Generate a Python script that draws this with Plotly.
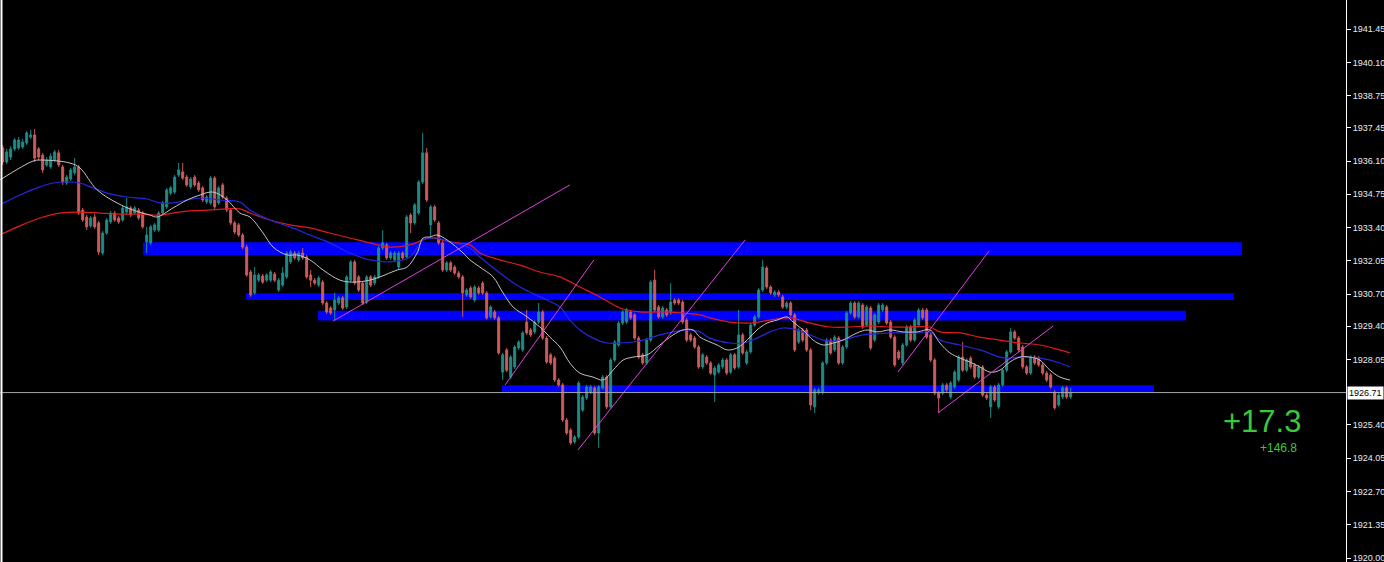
import plotly.graph_objects as go

# ---------------- data ----------------
open_ = [
 1936.63,1936.06,1936.26,1936.59,1936.63,1936.67,1936.83,1937.07,1937.16,1936.59,
 1936.34,1935.94,1935.86,1936.14,1936.43,1935.86,1935.21,1935.37,1935.62,1935.86,
 1934.11,1933.83,1933.47,1933.83,1933.59,1932.37,1933.18,1933.63,1933.99,1933.79,
 1933.71,1934.03,1934.20,1933.99,1934.11,1933.99,1932.82,1932.78,1933.30,1933.30,
 1933.99,1934.24,1934.80,1934.84,1935.53,1935.66,1935.45,1935.05,1935.45,1935.21,
 1935.01,1934.44,1934.40,1935.41,1934.40,1935.13,1934.60,1934.11,1933.59,1933.51,
 1933.10,1932.61,1931.60,1930.75,1931.27,1931.44,1931.27,1931.27,1931.52,1930.87,
 1931.07,1931.40,1932.01,1932.37,1932.09,1932.37,1932.21,1931.48,1931.27,1931.07,
 1931.19,1930.34,1930.14,1930.06,1930.34,1930.55,1930.18,1931.27,1932.01,1931.40,
 1931.15,1930.38,1931.40,1931.15,1931.40,1932.57,1932.70,1932.17,1932.09,1931.80,
 1932.37,1932.21,1933.91,1933.59,1933.99,1935.25,1936.43,1933.51,1934.24,1933.59,
 1932.78,1931.68,1931.97,1931.80,1931.56,1931.40,1930.67,1930.95,1930.46,1930.95,
 1931.15,1930.75,1929.78,1929.98,1929.74,1927.54,1928.44,1927.34,1927.75,1928.52,
 1928.44,1929.57,1929.25,1929.17,1929.57,1929.98,1928.92,1928.24,1928.11,1927.22,
 1927.02,1925.60,1925.19,1924.71,1924.91,1926.00,1926.49,1926.73,1926.90,1925.07,
 1926.90,1927.34,1926.13,1928.03,1928.64,1929.53,1929.57,1929.98,1929.86,1928.92,
 1928.24,1927.91,1928.84,1931.27,1930.18,1929.78,1930.06,1929.94,1930.46,1930.46,
 1930.38,1929.65,1929.05,1928.92,1928.56,1927.75,1928.15,1927.91,1927.42,1927.54,
 1927.75,1928.03,1927.54,1928.24,1927.75,1929.05,1927.91,1928.36,1929.45,1929.78,
 1930.87,1931.76,1930.99,1930.67,1930.79,1930.59,1930.18,1930.34,1929.86,1928.76,
 1929.25,1929.25,1928.44,1926.13,1926.71,1926.71,1927.91,1928.84,1928.44,1928.92,
 1927.91,1928.56,1929.94,1930.34,1929.78,1930.26,1929.45,1930.14,1928.84,1929.57,
 1930.06,1930.18,1929.57,1928.96,1928.36,1927.91,1928.64,1929.37,1928.84,1929.45,
 1930.06,1930.06,1929.05,1928.03,1926.69,1926.69,1927.02,1926.53,1926.94,1927.22,
 1928.15,1927.62,1928.11,1927.83,1927.34,1927.75,1926.61,1926.13,1926.94,1926.13,
 1927.02,1927.62,1928.36,1929.17,1928.92,1928.56,1927.75,1927.50,1928.15,1928.11,
 1927.83,1927.50,1927.42,1926.73,1926.21,1926.53,1926.90,1926.53,
]
high = [
 1936.75,1936.59,1936.71,1937.03,1937.07,1937.00,1937.32,1937.36,1937.40,1936.67,
 1936.42,1936.26,1936.42,1936.55,1936.55,1935.94,1935.53,1935.82,1936.22,1935.94,
 1934.20,1933.91,1933.87,1933.95,1933.67,1933.26,1933.79,1934.07,1934.07,1933.87,
 1934.28,1934.60,1934.28,1934.28,1934.20,1934.07,1933.43,1933.51,1933.59,1934.07,
 1934.48,1935.01,1935.09,1935.53,1936.02,1936.02,1935.53,1935.45,1935.53,1935.29,
 1935.09,1934.72,1935.49,1935.49,1935.09,1935.21,1934.68,1934.20,1933.67,1933.59,
 1933.18,1932.70,1931.68,1931.80,1931.56,1931.52,1931.56,1931.68,1931.60,1931.36,
 1931.80,1932.45,1932.49,1932.45,1932.45,1932.57,1932.29,1931.68,1931.36,1931.44,
 1931.27,1930.42,1930.22,1930.75,1930.63,1930.63,1931.48,1932.09,1932.09,1931.48,
 1931.23,1931.48,1931.48,1931.48,1932.65,1933.30,1932.78,1932.45,1932.45,1932.45,
 1932.45,1933.91,1933.99,1934.40,1935.33,1937.24,1936.63,1934.32,1934.32,1933.67,
 1932.86,1932.05,1932.05,1931.88,1931.64,1931.48,1930.95,1931.03,1931.07,1931.03,
 1931.23,1930.83,1930.26,1930.06,1929.82,1928.32,1928.52,1928.23,1928.64,1928.84,
 1929.21,1930.06,1929.33,1929.65,1930.34,1930.06,1929.00,1928.32,1928.19,1927.30,
 1927.10,1925.68,1925.27,1924.99,1927.18,1926.61,1927.02,1927.02,1926.98,1927.02,
 1927.42,1927.42,1928.11,1928.84,1929.61,1930.06,1930.14,1930.06,1929.94,1929.00,
 1928.32,1928.92,1931.27,1931.68,1930.26,1930.22,1930.14,1931.15,1930.54,1930.54,
 1930.46,1929.73,1929.13,1929.00,1928.64,1928.32,1928.23,1927.99,1927.79,1927.91,
 1928.11,1928.11,1928.32,1928.32,1930.06,1929.13,1928.44,1929.53,1929.86,1930.95,
 1932.09,1931.84,1931.07,1930.87,1930.87,1930.67,1930.42,1930.42,1929.94,1929.33,
 1929.33,1929.33,1928.52,1926.90,1926.90,1927.99,1928.92,1928.92,1929.04,1929.00,
 1928.64,1930.02,1930.42,1930.42,1930.42,1930.34,1930.26,1930.22,1929.94,1930.34,
 1930.34,1930.26,1929.65,1929.04,1928.44,1928.72,1929.45,1929.45,1929.73,1930.14,
 1930.14,1930.14,1929.13,1928.11,1926.77,1927.10,1927.10,1927.18,1927.62,1928.23,
 1928.76,1928.11,1928.19,1927.91,1927.83,1927.83,1926.69,1927.02,1927.02,1927.10,
 1927.70,1928.44,1929.33,1929.25,1929.00,1928.64,1927.83,1928.23,1928.23,1928.19,
 1927.91,1927.58,1927.50,1926.81,1926.69,1926.98,1926.98,1926.90,
]
low = [
 1935.94,1935.98,1936.14,1936.50,1936.55,1936.59,1936.75,1937.00,1936.06,1936.14,
 1935.62,1935.86,1935.78,1936.06,1935.86,1935.13,1935.13,1935.29,1935.53,1933.91,
 1933.63,1933.30,1933.39,1933.35,1932.29,1932.29,1933.10,1933.55,1933.63,1933.55,
 1933.63,1933.95,1933.83,1933.91,1933.71,1933.35,1932.37,1932.70,1933.22,1933.22,
 1933.91,1934.16,1934.72,1934.76,1935.45,1935.33,1935.05,1934.97,1935.05,1934.85,
 1934.44,1934.36,1934.32,1934.16,1934.32,1934.56,1934.03,1933.51,1933.14,1933.02,
 1932.53,1931.40,1930.59,1930.67,1931.19,1931.11,1931.19,1931.19,1931.19,1930.79,
 1930.99,1931.32,1931.93,1932.09,1932.01,1932.09,1931.32,1930.99,1931.07,1930.99,
 1930.26,1929.90,1929.86,1929.65,1930.26,1930.06,1930.10,1931.19,1931.07,1930.79,
 1930.26,1930.30,1930.99,1931.07,1931.32,1932.49,1932.09,1932.09,1932.01,1931.72,
 1932.09,1932.13,1933.18,1933.51,1933.91,1935.17,1934.44,1933.02,1933.63,1932.70,
 1931.60,1931.60,1931.60,1931.48,1931.32,1929.78,1930.59,1930.51,1930.38,1930.67,
 1930.67,1929.66,1929.70,1929.66,1928.24,1927.22,1927.54,1927.26,1927.67,1928.44,
 1928.36,1929.05,1928.97,1929.09,1929.49,1928.84,1927.87,1927.83,1927.14,1926.94,
 1925.52,1924.99,1924.59,1924.63,1924.83,1925.92,1926.41,1926.65,1924.99,1924.47,
 1926.82,1926.05,1926.05,1927.95,1928.56,1929.45,1929.49,1929.66,1928.84,1928.07,
 1927.83,1927.83,1928.76,1929.98,1929.70,1929.70,1929.78,1929.86,1930.26,1930.26,
 1929.49,1928.76,1928.76,1928.48,1927.67,1927.67,1927.83,1927.42,1926.33,1927.46,
 1927.67,1927.42,1927.46,1927.63,1927.67,1928.24,1927.83,1928.28,1929.37,1929.70,
 1930.79,1930.91,1930.67,1930.59,1930.59,1930.10,1930.10,1929.78,1928.36,1928.68,
 1928.76,1928.36,1926.00,1925.88,1926.63,1926.63,1927.83,1928.24,1928.36,1927.83,
 1927.83,1928.48,1929.86,1929.70,1929.70,1929.29,1929.37,1928.44,1928.76,1929.49,
 1929.98,1929.45,1928.88,1927.75,1928.03,1927.83,1928.56,1928.76,1928.76,1929.37,
 1929.66,1928.88,1927.95,1926.61,1925.88,1926.61,1926.74,1926.45,1926.86,1927.14,
 1927.54,1927.54,1927.67,1927.26,1927.26,1926.53,1926.41,1925.68,1926.33,1926.05,
 1926.94,1927.54,1928.28,1928.84,1928.36,1927.67,1927.42,1927.42,1927.83,1927.75,
 1927.42,1927.14,1926.86,1926.01,1926.13,1926.45,1926.45,1926.45,
]
close = [
 1936.06,1936.47,1936.59,1936.95,1936.95,1936.87,1937.24,1937.16,1936.22,1936.26,
 1935.74,1936.14,1936.30,1936.47,1935.94,1935.25,1935.45,1935.74,1935.86,1933.99,
 1933.71,1933.43,1933.79,1933.43,1932.41,1933.18,1933.71,1933.99,1933.71,1933.63,
 1934.20,1934.24,1933.91,1934.20,1933.79,1933.43,1933.10,1933.43,1933.51,1933.99,
 1934.40,1934.93,1935.01,1935.45,1935.74,1935.41,1935.13,1935.37,1935.13,1934.93,
 1934.52,1934.64,1935.41,1934.24,1935.01,1934.64,1934.11,1933.59,1933.22,1933.10,
 1932.61,1931.48,1930.67,1931.48,1931.48,1931.19,1931.48,1931.60,1931.27,1931.27,
 1931.56,1932.37,1932.41,1932.17,1932.37,1932.17,1931.40,1931.27,1931.15,1931.36,
 1930.34,1929.98,1929.94,1930.46,1930.55,1930.14,1931.40,1932.01,1931.15,1930.87,
 1930.34,1931.40,1931.07,1931.40,1932.57,1932.78,1932.17,1932.37,1932.37,1932.37,
 1932.17,1933.83,1933.59,1934.32,1935.25,1936.43,1934.52,1934.24,1933.71,1932.78,
 1931.68,1931.97,1931.68,1931.56,1931.40,1930.75,1930.87,1930.59,1930.99,1930.75,
 1930.75,1929.74,1930.18,1929.74,1928.32,1928.24,1927.62,1928.15,1928.56,1928.76,
 1929.13,1929.13,1929.05,1929.57,1929.98,1928.92,1927.95,1927.91,1927.22,1927.02,
 1925.60,1925.07,1924.67,1924.91,1927.10,1926.53,1926.94,1926.94,1925.07,1926.94,
 1927.34,1926.13,1928.03,1928.76,1929.53,1929.98,1930.06,1929.74,1928.92,1928.15,
 1927.91,1928.84,1931.19,1930.06,1929.78,1930.14,1929.86,1930.38,1930.34,1930.34,
 1929.57,1928.84,1928.84,1928.56,1927.75,1928.24,1927.91,1927.50,1927.71,1927.83,
 1928.03,1927.50,1928.24,1927.71,1929.05,1928.32,1928.36,1929.45,1929.78,1930.87,
 1931.80,1930.99,1930.75,1930.79,1930.67,1930.18,1930.34,1929.86,1928.44,1929.25,
 1928.84,1928.44,1926.21,1926.82,1926.82,1927.91,1928.84,1928.32,1928.96,1927.91,
 1928.56,1929.94,1930.34,1929.78,1930.34,1929.37,1930.18,1928.52,1929.86,1930.26,
 1930.26,1929.53,1928.96,1927.83,1928.11,1928.64,1929.37,1928.84,1929.65,1930.06,
 1929.74,1928.96,1928.03,1926.69,1926.49,1927.02,1926.82,1927.10,1927.54,1928.15,
 1927.62,1928.03,1927.75,1927.34,1927.75,1926.61,1926.49,1926.94,1926.41,1927.02,
 1927.62,1928.36,1929.17,1928.92,1928.44,1927.75,1927.50,1928.15,1927.91,1927.83,
 1927.50,1927.22,1926.94,1926.09,1926.61,1926.90,1926.53,1926.71,
]

price_ticks = [1941.45, 1940.10, 1938.75, 1937.45, 1936.10, 1934.75, 1933.40, 1932.05,
               1930.70, 1929.40, 1928.05, 1925.40, 1924.05, 1922.70, 1921.35, 1920.00]
last_price = 1926.71
y_range = [1919.84, 1942.63]

# moving averages (bar index, price)
ma_fast_x = [-0.7,7.6,9.3,16.8,19.3,23.6,28.6,32.6,36.8,38.6,42.6,46.1,48.6,52.6,56.1,59.3,61.8,65.1,67.6,71.1,
             73.6,76.8,80.1,84.3,87.6,91.8,94.3,98.6,101.1,103.6,105.1,106.8,108.6,111.1,115.1,116.8,119.3,122.6,125.1,127.6,
             131.1,134.3,136.8,139.3,141.8,144.3,147.6,150.1,152.6,155.1,157.6,161.1,164.3,167.6,170.1,172.6,174.3,178.6,181.1,183.6,
             186.1,188.6,191.1,193.6,196.1,197.6,200.1,202.6,205.1,207.6,210.1,213.6,216.1,218.6,221.8,225.1,228.6,231.8,234.3,236.8,
             239.3,241.8,244.3,246.8,249.3,251.8,254.3,256.8,259.3,261.8,264.3,266.8]
ma_fast_y = [1935.33,1936.10,1936.14,1936.02,1935.82,1934.93,1934.40,1934.11,1933.91,1933.83,1934.20,1934.52,1934.68,1934.84,1934.52,1933.99,1933.83,1933.18,1932.61,1932.29,
             1932.29,1932.09,1931.68,1931.27,1931.19,1931.27,1931.40,1931.68,1931.80,1932.37,1932.98,1933.02,1933.10,1932.90,1932.37,1932.09,1931.80,1931.40,1930.75,1930.18,
             1929.78,1929.37,1928.96,1928.56,1927.91,1927.50,1927.34,1927.22,1927.62,1928.03,1928.15,1928.24,1928.64,1929.05,1929.25,1929.25,1928.96,1928.64,1928.44,1928.52,
             1928.84,1929.25,1929.53,1929.65,1929.78,1929.57,1929.25,1928.84,1928.64,1928.72,1928.84,1929.13,1929.25,1929.17,1929.25,1929.17,1929.17,1929.25,1928.72,1928.32,
             1928.11,1927.95,1927.75,1927.54,1927.62,1927.95,1928.15,1928.15,1928.03,1927.62,1927.34,1927.22]
ma_mid_x = [-0.7,4.3,9.3,12.6,16.1,19.3,22.6,26.1,31.1,36.1,39.3,42.6,46.1,49.3,54.3,59.3,61.8,66.8,71.8,76.8,
            81.8,86.8,91.8,96.8,101.8,105.1,108.6,111.8,116.8,119.3,124.3,129.3,134.3,139.3,141.8,144.3,147.6,151.1,154.3,157.6,
            161.1,164.3,167.6,171.1,174.3,176.8,181.8,185.1,188.6,191.8,195.1,198.6,201.8,205.1,208.6,211.8,215.1,218.6,221.8,225.1,
            228.6,231.8,234.3,239.3,244.3,249.3,251.8,254.3,259.3,264.3,266.8]
ma_mid_y = [1934.32,1934.72,1935.05,1935.21,1935.25,1935.21,1935.01,1934.80,1934.64,1934.56,1934.40,1934.40,1934.52,1934.60,1934.52,1934.44,1934.11,1933.71,1933.43,1933.10,
            1932.78,1932.37,1932.09,1932.01,1932.21,1932.90,1932.98,1932.82,1932.57,1932.21,1931.56,1930.99,1930.59,1930.18,1929.65,1929.25,1928.92,1928.72,1928.72,1928.76,
            1928.88,1929.05,1929.17,1929.25,1929.17,1928.92,1928.72,1928.72,1928.92,1929.17,1929.33,1929.25,1929.05,1928.84,1928.80,1928.92,1929.05,1929.09,1929.13,1929.13,
            1929.13,1929.17,1928.84,1928.64,1928.44,1928.15,1928.11,1928.15,1928.11,1927.91,1927.75]
ma_slow_x = [-0.7,4.3,9.3,14.3,19.3,24.3,29.3,34.3,39.3,42.6,46.1,51.1,56.1,59.3,61.8,66.8,71.8,76.8,81.8,86.8,
             91.8,96.8,101.8,106.8,111.8,116.8,119.3,124.3,129.3,134.3,139.3,144.3,149.3,154.3,159.3,164.3,169.3,174.3,176.8,181.8,
             186.8,191.8,196.8,201.8,206.8,211.8,216.8,221.8,226.8,231.8,234.3,239.3,244.3,249.3,254.3,259.3,264.3,266.8]
ma_slow_y = [1933.10,1933.47,1933.79,1933.99,1934.03,1933.99,1933.95,1933.95,1933.91,1933.99,1934.07,1934.11,1934.16,1934.16,1933.99,1933.71,1933.51,1933.39,1933.18,1932.98,
             1932.78,1932.61,1932.70,1932.98,1932.82,1932.70,1932.37,1932.09,1931.88,1931.60,1931.40,1930.99,1930.59,1930.14,1929.98,1929.98,1929.94,1929.86,1929.74,1929.57,
             1929.53,1929.65,1929.74,1929.53,1929.37,1929.37,1929.41,1929.37,1929.37,1929.37,1929.17,1929.13,1928.96,1928.84,1928.72,1928.64,1928.44,1928.32]

# support / resistance zones (bar index span, price band)
zone_x0 = [35.1, 60.8, 78.8, 124.8]
zone_x1 = [309.8, 307.8, 295.8, 287.8]
zone_lo = [1932.29, 1930.46, 1929.63, 1926.73]
zone_hi = [1932.81, 1930.74, 1930.03, 1927.01]

# trend lines
trend_x0 = [82.6, 125.6, 143.8, 223.8, 233.8]
trend_y0 = [1929.61, 1927.02, 1924.38, 1927.54, 1925.88]
trend_x1 = [141.8, 147.8, 185.6, 246.6, 262.6]
trend_y1 = [1935.13, 1932.09, 1932.90, 1932.45, 1929.41]

profit_big = "+17.3"
profit_small = "+146.8"

# ---------------- figure ----------------
bars = list(range(len(close)))
UP = "#1f8c86"
DN = "#cd5c5c"

fig = go.Figure()
fig.add_trace(go.Candlestick(
    x=bars, open=open_, high=high, low=low, close=close,
    increasing=dict(line=dict(color=UP, width=1), fillcolor=UP),
    decreasing=dict(line=dict(color=DN, width=1), fillcolor=DN),
    whiskerwidth=0, showlegend=False, hoverinfo="skip"))

fig.add_trace(go.Scatter(x=ma_slow_x, y=ma_slow_y, mode="lines",
                         line=dict(color="#dd1c1c", width=1.2, shape="spline"), showlegend=False, hoverinfo="skip"))
fig.add_trace(go.Scatter(x=ma_mid_x, y=ma_mid_y, mode="lines",
                         line=dict(color="#2626e0", width=1.2, shape="spline"), showlegend=False, hoverinfo="skip"))
fig.add_trace(go.Scatter(x=ma_fast_x, y=ma_fast_y, mode="lines",
                         line=dict(color="#c4c4c4", width=1, shape="spline"), showlegend=False, hoverinfo="skip"))

shapes = []
for a, b, lo_, hi_ in zip(zone_x0, zone_x1, zone_lo, zone_hi):
    shapes.append(dict(type="rect", xref="x", yref="y", x0=a, x1=b, y0=lo_, y1=hi_,
                       fillcolor="#0000ff", line=dict(width=0), layer="below"))
for a, ya, b, yb in zip(trend_x0, trend_y0, trend_x1, trend_y1):
    shapes.append(dict(type="line", xref="x", yref="y", x0=a, y0=ya, x1=b, y1=yb,
                       line=dict(color="#e040e0", width=1), layer="above"))
# bid line
shapes.append(dict(type="line", xref="paper", yref="y", x0=0, x1=1, y0=last_price, y1=last_price,
                   line=dict(color="#a8a8a8", width=1), layer="above"))
# left frame line
shapes.append(dict(type="line", xref="paper", yref="paper", x0=0.0011, x1=0.0011, y0=0, y1=1,
                   line=dict(color="#ffffff", width=2), layer="above"))

PLOT_W = 1346
annotations = [
    dict(text=profit_big, xref="paper", yref="paper", x=1262 / PLOT_W, y=1 - 421 / 562,
         showarrow=False, xanchor="center", yanchor="middle",
         font=dict(family="Liberation Sans, Arial, sans-serif", size=31, color="#3cc83c")),
    dict(text=profit_small, xref="paper", yref="paper", x=1278 / PLOT_W, y=1 - 447.5 / 562,
         showarrow=False, xanchor="center", yanchor="middle",
         font=dict(family="Liberation Sans, Arial, sans-serif", size=12, color="#3cc83c")),
    dict(text=f"{last_price:.2f}", xref="paper", yref="y", x=1, y=last_price, xshift=1,
         showarrow=False, xanchor="left", yanchor="middle", bgcolor="#ffffff", borderpad=1,
         font=dict(family="Liberation Sans, Arial, sans-serif", size=9, color="#000000")),
]

fig.update_layout(
    width=1384, height=562,
    margin=dict(l=0, r=1384 - PLOT_W, t=0, b=0),
    paper_bgcolor="#000000", plot_bgcolor="#000000",
    shapes=shapes, annotations=annotations,
    showlegend=False, hovermode=False,
    xaxis=dict(range=[-0.675, 335.825], showgrid=False, zeroline=False, showticklabels=False,
               ticks="", showline=False, rangeslider=dict(visible=False), fixedrange=True),
    yaxis=dict(range=y_range, side="right", showgrid=False, zeroline=False,
               tickvals=price_ticks, ticktext=[f"{v:.2f}" for v in price_ticks],
               ticks="outside", ticklen=4, tickcolor="#ffffff", tickwidth=1,
               showline=True, linecolor="#ffffff", linewidth=1,
               ticklabeloverflow="allow",
               tickfont=dict(family="Liberation Sans, Arial, sans-serif", size=9, color="#ececec"),
               automargin=False, fixedrange=True),
)

fig.write_html("out.html",
               config={"displayModeBar": False},
               post_script="document.body.style.margin='0';document.body.style.background='#000';")
